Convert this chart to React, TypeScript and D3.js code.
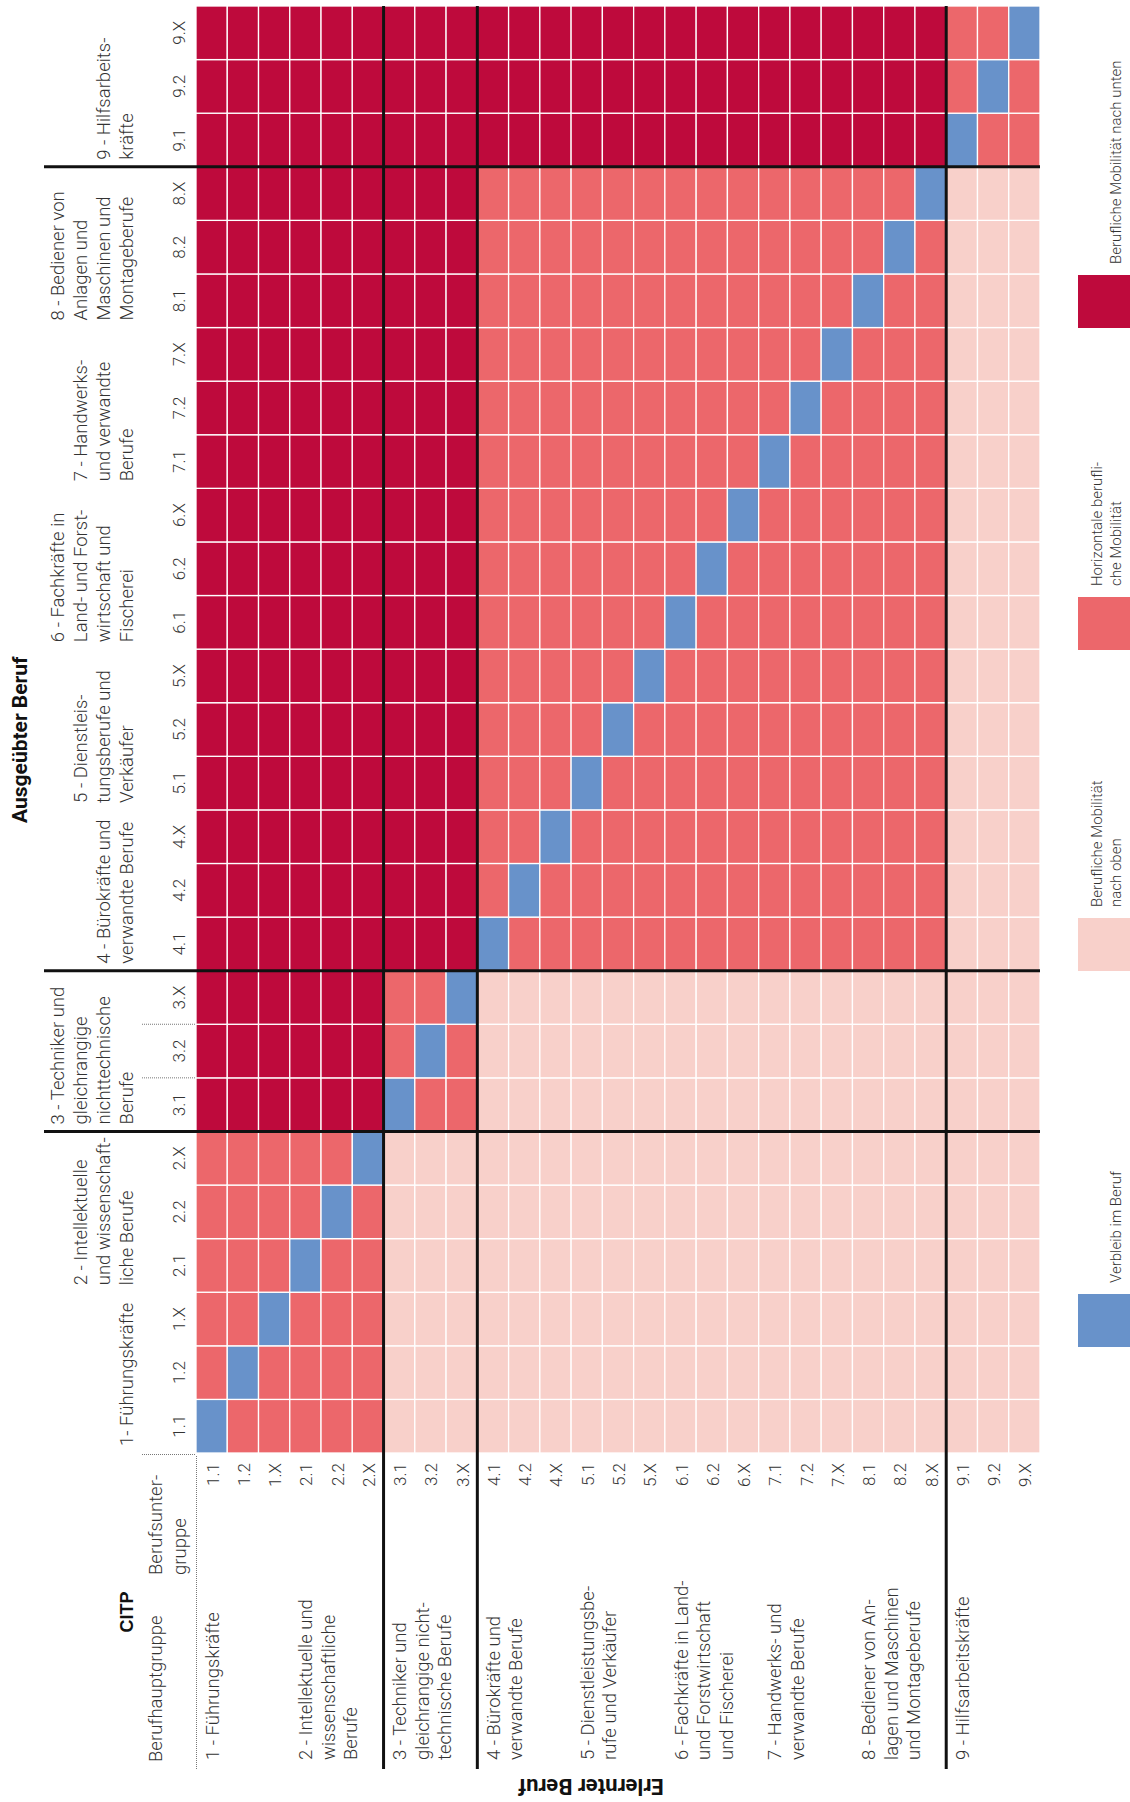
import React from 'react';
import * as d3 from 'd3';

const W = 1130;
const H = 1802;

// CITP-Berufsuntergruppen (gleich für erlernten und ausgeübten Beruf)
const codes = [
  '1.1', '1.2', '1.X', '2.1', '2.2', '2.X', '3.1', '3.2', '3.X',
  '4.1', '4.2', '4.X', '5.1', '5.2', '5.X', '6.1', '6.2', '6.X',
  '7.1', '7.2', '7.X', '8.1', '8.2', '8.X', '9.1', '9.2', '9.X',
];

const groupStarts = ['1.1', '2.1', '3.1', '4.1', '5.1', '6.1', '7.1', '8.1', '9.1'];
const groupBreaks = ['3.1', '4.1', '9.1'];

// Spaltenköpfe (Ausgeübter Beruf)
const colHeads = [
  ['1- Führungskräfte'],
  ['2 - Intellektuelle', 'und wissenschaft-', 'liche Berufe'],
  ['3 - Techniker und', 'gleichrangige', 'nichttechnische', 'Berufe'],
  ['4 - Bürokräfte und', 'verwandte Berufe'],
  ['5 - Dienstleis-', 'tungsberufe und', 'Verkäufer'],
  ['6 - Fachkräfte in', 'Land- und Forst-', 'wirtschaft und', 'Fischerei'],
  ['7 - Handwerks-', 'und verwandte', 'Berufe'],
  ['8 - Bediener von', 'Anlagen und', 'Maschinen und', 'Montageberufe'],
  ['9 - Hilfsarbeits-', 'kräfte'],
];

// Zeilenköpfe (Erlernter Beruf)
const rowHeads = [
  ['1 - Führungskräfte'],
  ['2 - Intellektuelle und', 'wissenschaftliche', 'Berufe'],
  ['3 - Techniker und', 'gleichrangige nicht-', 'technische Berufe'],
  ['4 - Bürokräfte und', 'verwandte Berufe'],
  ['5 - Dienstleistungsbe-', 'rufe und Verkäufer'],
  ['6 - Fachkräfte in Land-', 'und Forstwirtschaft', 'und Fischerei'],
  ['7 - Handwerks- und', 'verwandte Berufe'],
  ['8 - Bediener von An-', 'lagen und Maschinen', 'und Montageberufe'],
  ['9 - Hilfsarbeitskräfte'],
];

// v = Verbleib, o = nach oben, h = horizontal, u = nach unten
// Zeile = erlernter Beruf, Spalte = ausgeübter Beruf
const matrix = [
  'vhh hhh uuu uuu uuu uuu uuu uuu uuu',
  'hvh hhh uuu uuu uuu uuu uuu uuu uuu',
  'hhv hhh uuu uuu uuu uuu uuu uuu uuu',
  'hhh vhh uuu uuu uuu uuu uuu uuu uuu',
  'hhh hvh uuu uuu uuu uuu uuu uuu uuu',
  'hhh hhv uuu uuu uuu uuu uuu uuu uuu',
  'ooo ooo vhh uuu uuu uuu uuu uuu uuu',
  'ooo ooo hvh uuu uuu uuu uuu uuu uuu',
  'ooo ooo hhv uuu uuu uuu uuu uuu uuu',
  'ooo ooo ooo vhh hhh hhh hhh hhh uuu',
  'ooo ooo ooo hvh hhh hhh hhh hhh uuu',
  'ooo ooo ooo hhv hhh hhh hhh hhh uuu',
  'ooo ooo ooo hhh vhh hhh hhh hhh uuu',
  'ooo ooo ooo hhh hvh hhh hhh hhh uuu',
  'ooo ooo ooo hhh hhv hhh hhh hhh uuu',
  'ooo ooo ooo hhh hhh vhh hhh hhh uuu',
  'ooo ooo ooo hhh hhh hvh hhh hhh uuu',
  'ooo ooo ooo hhh hhh hhv hhh hhh uuu',
  'ooo ooo ooo hhh hhh hhh vhh hhh uuu',
  'ooo ooo ooo hhh hhh hhh hvh hhh uuu',
  'ooo ooo ooo hhh hhh hhh hhv hhh uuu',
  'ooo ooo ooo hhh hhh hhh hhh vhh uuu',
  'ooo ooo ooo hhh hhh hhh hhh hvh uuu',
  'ooo ooo ooo hhh hhh hhh hhh hhv uuu',
  'ooo ooo ooo ooo ooo ooo ooo ooo vhh',
  'ooo ooo ooo ooo ooo ooo ooo ooo hvh',
  'ooo ooo ooo ooo ooo ooo ooo ooo hhv',
];

const categories = ['v', 'o', 'h', 'u'];
const legendLabels = [
  ['Verbleib im Beruf'],
  ['Berufliche Mobilität', 'nach oben'],
  ['Horizontale berufli-', 'che Mobilität'],
  ['Berufliche Mobilität nach unten'],
];
const palette = ['#6892ca', '#f8d0ca', '#ec676b', '#be0a3c'];

const FONT = 'Roboto, "Open Sans", sans-serif';
const BOLD = '"Liberation Sans", Arial, sans-serif';
const TXT = '#333';
const LBL = 18.5;

const App: React.FC = () => {
  // Zeichnung im Querformat (H breit, W hoch), danach um -90° gedreht
  const x = d3.scaleBand<string>().domain(codes).range([349, 1796]);
  const y = d3.scaleBand<string>().domain(codes).range([196, 1040]);
  const color = d3.scaleOrdinal<string, string>().domain(categories).range(palette);

  const cells = matrix.flatMap((row, i) =>
    row.replace(/ /g, '').split('').map((c, j) => ({ row: codes[i], col: codes[j], cat: c }))
  );

  const legendX = [455, 831, 1152, 1474];

  return (
    <svg width={W} height={H} style={{ position: 'absolute', left: 0, top: 0, background: '#fff' }}
      fontFamily={FONT}>
      <g transform={`translate(0,${H}) rotate(-90)`}>
        {/* Titel */}
        <text x={979} y={27} fontSize={21} fontWeight={700} fill="#111">
          Ausgeübter Beruf
        </text>
        <text transform={`translate(23,591) rotate(-90)`} textAnchor="middle"
          fontSize={22} fontWeight={700} fill="#111">
          Erlernter Beruf
        </text>

        {/* Zellen */}
        <g>
          {cells.map((d, i) => (
            <rect key={i} x={x(d.col)} y={y(d.row)} width={x.bandwidth()} height={y.bandwidth()}
              fill={color(d.cat)} stroke="#fff" strokeWidth={1.3} />
          ))}
        </g>

        {/* Kopfzeile links oben */}
        <text x={190} y={133} textAnchor="middle" fontFamily={BOLD} fontSize={18} fontWeight={700}
          fill="#111">CITP</text>
        <text x={40} y={162} fontSize={LBL} fontWeight={300} fill={TXT}>Berufhauptgruppe</text>
        <text x={227} y={162} fontSize={LBL} fontWeight={300} fill={TXT}>Berufsunter-</text>
        <text x={227} y={186} fontSize={LBL} fontWeight={300} fill={TXT}>gruppe</text>

        {/* Spaltencodes */}
        {codes.map((c) => (
          <text key={'c' + c} x={(x(c) as number) + x.bandwidth() / 2} y={185} textAnchor="middle"
            fontSize={17} fontWeight={300} fill={TXT}>{c}</text>
        ))}
        {/* Zeilencodes */}
        {codes.map((c) => (
          <text key={'r' + c} x={339} y={(y(c) as number) + y.bandwidth() / 2 + 7} textAnchor="end"
            fontSize={17} fontWeight={300} fill={TXT}>{c}</text>
        ))}

        {/* Spaltengruppen */}
        {colHeads.map((lines, g) => (
          <text key={'cg' + g} fontSize={LBL} fontWeight={300} fill={TXT}>
            {lines.map((l, k) => (
              <tspan key={k} x={(x(groupStarts[g]) as number) + 7} y={133 - (lines.length - 1 - k) * 23}>{l}</tspan>
            ))}
          </text>
        ))}
        {/* Zeilengruppen */}
        {rowHeads.map((lines, g) => (
          <text key={'rg' + g} fontSize={LBL} fontWeight={300} fill={TXT}>
            {lines.map((l, k) => (
              <tspan key={k} x={42} y={(y(groupStarts[g]) as number) + y.bandwidth() / 2 + 7 + k * 22.5}>{l}</tspan>
            ))}
          </text>
        ))}

        {/* gepunktete Linien */}
        <g stroke="#777" strokeWidth={1} strokeDasharray="1,1">
          <line x1={33} x2={347} y1={196.5} y2={196.5} />
          <line x1={347.5} x2={347.5} y1={142} y2={196} />
          {['3.2', '3.X'].map((c) => (
            <line key={c} x1={x(c)} x2={x(c)} y1={142} y2={196} />
          ))}
        </g>

        {/* Gruppengrenzen */}
        <g stroke="#111" strokeWidth={3}>
          {groupBreaks.map((c) => (
            <line key={'v' + c} x1={x(c)} x2={x(c)} y1={44} y2={1040} />
          ))}
          {groupBreaks.map((c) => (
            <line key={'h' + c} x1={33} x2={1796} y1={y(c)} y2={y(c)} />
          ))}
        </g>

        {/* Legende */}
        {categories.map((c, i) => (
          <g key={'l' + c}>
            <rect x={legendX[i]} y={1078} width={53} height={53} fill={color(c)} />
            <text fontSize={15} fontWeight={300} fill={TXT}>
              {legendLabels[i].map((l, k) => (
                <tspan key={k} x={legendX[i] + 64} y={1121 - (legendLabels[i].length - 1 - k) * 19}>{l}</tspan>
              ))}
            </text>
          </g>
        ))}
      </g>
    </svg>
  );
};

export default App;
